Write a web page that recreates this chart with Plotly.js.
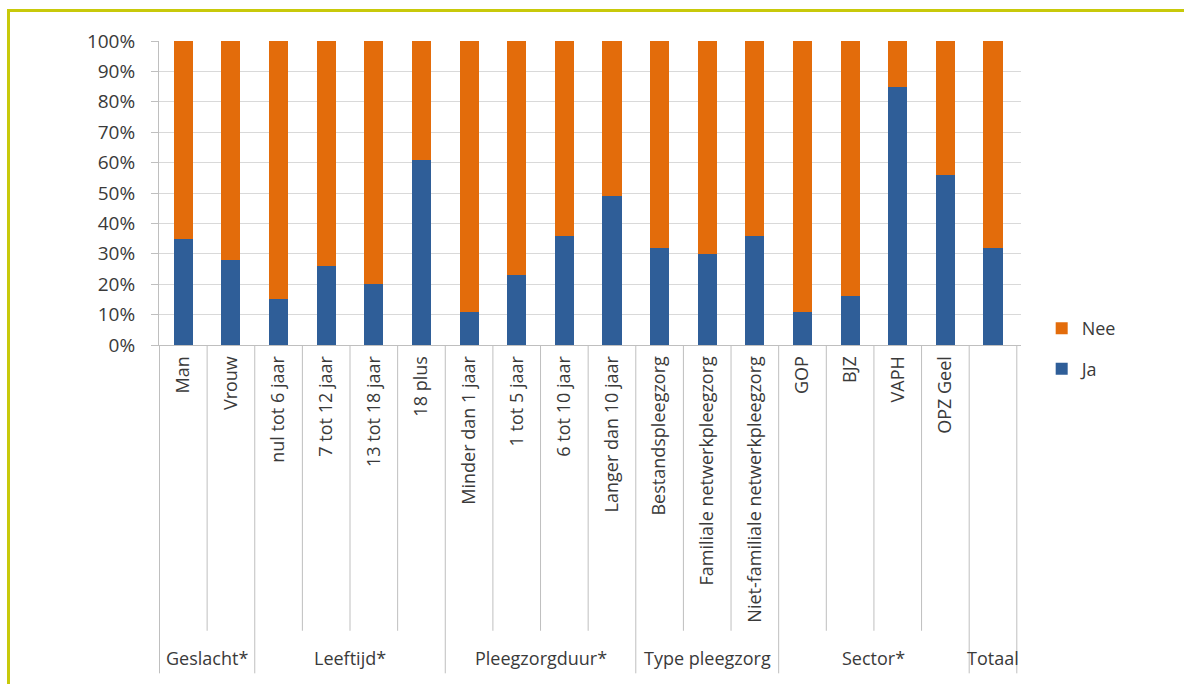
<!DOCTYPE html>
<html>
<head>
<meta charset="utf-8">
<script src="https://cdn.plot.ly/plotly-3.0.1.min.js"></script>
<style>
  html, body { margin: 0; padding: 0; background: #ffffff; }
  #chart { width: 1184px; height: 684px; position: relative; }
  #frame {
    position: absolute; left: 7px; top: 9px; right: 0; bottom: 0;
    border-top: 3px solid #c8c90a; border-left: 3px solid #c8c90a;
    pointer-events: none;
  }
</style>
</head>
<body>
<div id="chart"></div>
<div id="frame"></div>
<script>
// Categories along the x axis, in order
const categories = [
  'Man', 'Vrouw',
  'nul tot 6 jaar', '7 tot 12 jaar', '13 tot 18 jaar', '18 plus',
  'Minder dan 1 jaar', '1 tot 5 jaar', '6 tot 10 jaar', 'Langer dan 10 jaar',
  'Bestandspleegzorg', 'Familiale netwerkpleegzorg', 'Niet-familiale netwerkpleegzorg',
  'GOP', 'BJZ', 'VAPH', 'OPZ Geel',
  'Totaal'
];

// Tick labels under each category (the overall column has only its group label)
const tickLabels = [
  'Man', 'Vrouw',
  'nul tot 6 jaar', '7 tot 12 jaar', '13 tot 18 jaar', '18 plus',
  'Minder dan 1 jaar', '1 tot 5 jaar', '6 tot 10 jaar', 'Langer dan 10 jaar',
  'Bestandspleegzorg', 'Familiale netwerkpleegzorg', 'Niet-familiale netwerkpleegzorg',
  'GOP', 'BJZ', 'VAPH', 'OPZ Geel',
  ''
];

// Grouping of the categories (label + number of categories in each group)
const groupLabels = ['Geslacht*', 'Leeftijd*', 'Pleegzorgduur*', 'Type pleegzorg', 'Sector*', 'Totaal'];
const groupSizes = [2, 4, 4, 3, 4, 1];

// Shares in percent
const jaValues  = [35, 28, 15, 26, 20, 61, 11, 23, 36, 49, 32, 30, 36, 11, 16, 85, 56, 32];
const neeValues = [65, 72, 85, 74, 80, 39, 89, 77, 64, 51, 68, 70, 64, 89, 84, 15, 44, 68];

// Y tick values and labels
const yTickValues = [0, 10, 20, 30, 40, 50, 60, 70, 80, 90, 100];
const yTickLabels = ['0%', '10%', '20%', '30%', '40%', '50%', '60%', '70%', '80%', '90%', '100%'];

const FONT = 'Open Sans, Liberation Sans, sans-serif';
const TEXT = '#3a3a3a';
const LINE = '#bfbfbf';

const traces = [
  {
    type: 'bar', name: 'Ja', x: categories, y: jaValues,
    marker: { color: '#2f5e98' }, legendgroup: 'ja', legendrank: 2
  },
  {
    type: 'bar', name: 'Nee', x: categories, y: neeValues,
    marker: { color: '#e36c0b' }, legendgroup: 'nee', legendrank: 1
  }
];

// Divider lines below the axis: short ones between categories,
// long ones at group boundaries and at both ends.
const shapes = [];
const groupEdges = new Set([0]);
let acc = 0;
groupSizes.forEach(s => { acc += s; groupEdges.add(acc); });
for (let k = 0; k <= categories.length; k++) {
  const isGroupEdge = groupEdges.has(k);
  shapes.push({
    type: 'line', xref: 'x', yref: 'paper',
    x0: k - 0.5, x1: k - 0.5, y0: 0, y1: isGroupEdge ? -1.08 : -0.94,
    line: { color: LINE, width: 1 }
  });
}

// Group labels centred under their categories
const annotations = [];
let start = 0;
groupLabels.forEach((label, i) => {
  const size = groupSizes[i];
  annotations.push({
    xref: 'x', yref: 'paper', x: start + (size - 1) / 2, y: -1.03,
    text: label, showarrow: false, xanchor: 'center', yanchor: 'middle',
    font: { family: FONT, size: 18, color: TEXT }
  });
  start += size;
});

const layout = {
  width: 1184, height: 684,
  margin: { l: 159, r: 163, t: 41, b: 339 },
  paper_bgcolor: '#ffffff', plot_bgcolor: '#ffffff',
  barmode: 'stack', bargap: 0.6,
  showlegend: true,
  legend: {
    x: 1.024, xanchor: 'left', y: 0.115, yanchor: 'top',
    traceorder: 'grouped', tracegroupgap: 14,
    font: { family: FONT, size: 18, color: TEXT },
    bgcolor: 'rgba(0,0,0,0)'
  },
  xaxis: {
    type: 'category', tickangle: -90,
    tickvals: categories, ticktext: tickLabels,
    tickfont: { family: FONT, size: 18, color: TEXT },
    showgrid: false, showline: true, linecolor: LINE, linewidth: 1,
    ticks: '', ticklabelstandoff: 3, fixedrange: true
  },
  yaxis: {
    range: [0, 100], tickvals: yTickValues, ticktext: yTickLabels,
    tickfont: { family: FONT, size: 19, color: TEXT },
    showgrid: true, gridcolor: '#d9d9d9', gridwidth: 1,
    showline: true, linecolor: LINE, linewidth: 1,
    ticks: 'outside', ticklen: 7, tickcolor: LINE, ticklabelstandoff: 12,
    zeroline: false, fixedrange: true
  },
  shapes: shapes,
  annotations: annotations
};

Plotly.newPlot('chart', traces, layout, { displayModeBar: false, staticPlot: true });
</script>
</body>
</html>
